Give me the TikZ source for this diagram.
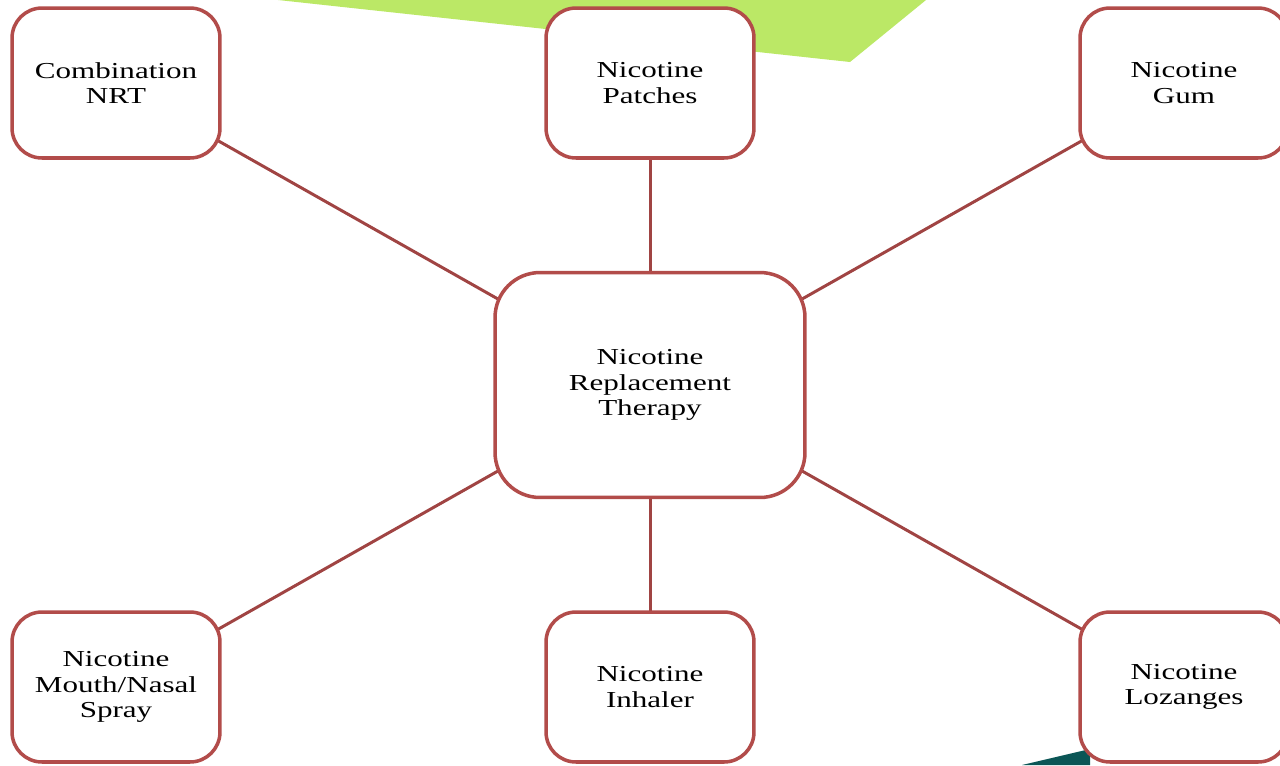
\documentclass[tikz,border=0pt]{standalone}
\usepackage{fontspec}
\setmainfont{Liberation Serif}[FakeStretch=1.36]
\usetikzlibrary{backgrounds}
\definecolor{boxred}{HTML}{B24C4A}
\definecolor{linkred}{HTML}{A04443}
\definecolor{leafgreen}{HTML}{BBE866}
\definecolor{darkteal}{HTML}{0B5656}
\tikzset{
  nrtbox/.style={draw=boxred, line width=2pt, fill=white, rounded corners=0.6cm,
    minimum width=4.16cm, minimum height=3cm, align=center, inner sep=2pt,
    font=\fontsize{13}{14.3}\selectfont},
  hubbox/.style={nrtbox, minimum width=6.2cm, minimum height=4.5cm, rounded corners=0.9cm},
  link/.style={draw=linkred, line width=1.7pt}
}
\begin{document}
\begin{tikzpicture}[x=0.02cm, y=-0.02cm]
\useasboundingbox (0,0) rectangle (1280,765);
\clip (0,0) rectangle (1280,765);
\fill[leafgreen] (278,0) -- (850,62) -- (926,0) -- cycle;
\fill[darkteal] (1022,765) -- (1090,749) -- (1090,765) -- cycle;
\node[hubbox] (NRT) at (650,385) {Nicotine\\Replacement\\Therapy};
\node[nrtbox] (combo) at (116,83) {Combination\\NRT};
\node[nrtbox] (patch) at (650,83) {Nicotine\\Patches};
\node[nrtbox] (gum) at (1184,83) {Nicotine\\Gum};
\node[nrtbox] (spray) at (116,687) {Nicotine\\Mouth/Nasal\\Spray};
\node[nrtbox] (inhal) at (650,687) {Nicotine\\Inhaler};
\node[nrtbox] (lozen) at (1184,687) {Nicotine\\Lozanges};
\begin{scope}[on background layer]
\foreach \leaf in {combo,patch,gum,spray,inhal,lozen}
  \draw[link] (NRT.center) -- (\leaf.center);
\end{scope}
\end{tikzpicture}
\end{document}
